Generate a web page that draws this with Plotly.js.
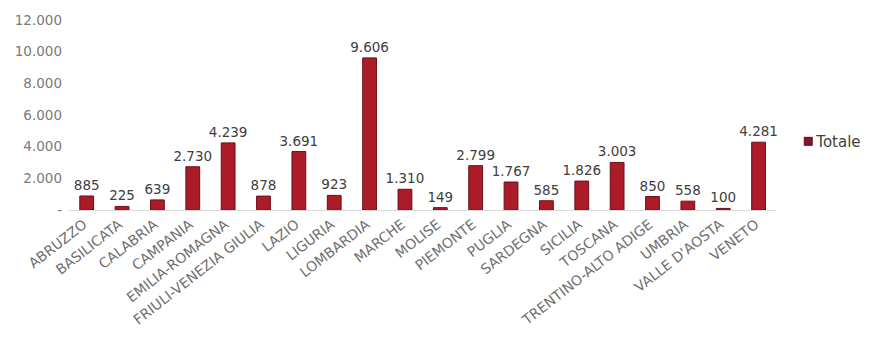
<!DOCTYPE html>
<html><head><meta charset="utf-8">
<script src="https://cdn.plot.ly/plotly-3.0.1.min.js"></script>
<style>html,body{margin:0;padding:0;background:#fff}#chart{width:869px;height:337px}</style>
</head><body><div id="chart"></div>
<script>
const regions = ["ABRUZZO","BASILICATA","CALABRIA","CAMPANIA","EMILIA-ROMAGNA","FRIULI-VENEZIA GIULIA","LAZIO","LIGURIA","LOMBARDIA","MARCHE","MOLISE","PIEMONTE","PUGLIA","SARDEGNA","SICILIA","TOSCANA","TRENTINO-ALTO ADIGE","UMBRIA","VALLE D'AOSTA","VENETO"];
const totale = [885,225,639,2730,4239,878,3691,923,9606,1310,149,2799,1767,585,1826,3003,850,558,100,4281];
const yTickVals = [0,2000,4000,6000,8000,10000,12000];
const yTickText = ["-","2.000","4.000","6.000","8.000","10.000","12.000"];

const fam = 'DejaVu Sans, Verdana, sans-serif';
const trace = {
  type:'bar', name:'Totale', x:regions, y:totale,
  width:0.39,
  marker:{color:'#ab1c28', line:{color:'#6a1018', width:1}},
  text: totale.map(v=>v.toLocaleString('it-IT').replace(/\s/g,'.')),
  textposition:'outside', cliponaxis:false, constraintext:'none',
  textfont:{family:fam, size:13.5, color:'#404040'},
  hoverinfo:'none'
};
const layout = {
  width:869, height:337,
  margin:{l:69, r:87, t:20, b:127},
  paper_bgcolor:'#fff', plot_bgcolor:'#fff',
  separators:',.',
  showlegend:true,
  legend:{xref:'container', x:0.998, y:0.36, yanchor:'middle', xanchor:'right', itemwidth:30,
          font:{family:fam, size:15, color:'#404040'}, bgcolor:'rgba(0,0,0,0)', borderwidth:0},
  xaxis:{type:'category', tickangle:-38, tickfont:{family:fam, size:14, color:'#6f6f6f'},
         ticklabelshift:-3,
         showline:true, linecolor:'#d9d9d9', linewidth:1, showgrid:false, ticks:'', automargin:false},
  yaxis:{range:[0,12000], tickvals:yTickVals, ticktext:yTickText, showgrid:false, zeroline:false,
         tickfont:{family:fam, size:13.5, color:'#7a7a7a'}, ticks:'', ticklen:0, ticklabelstandoff:6, automargin:false},
  bargap:0.61
};
Plotly.newPlot('chart',[trace],layout,{displayModeBar:false,staticPlot:true}).then(()=>{
  document.querySelectorAll('.legendpoints path').forEach(p=>{
    p.setAttribute('d','M-4,-4H4V4H-4Z');
    p.setAttribute('transform','translate(32,0)');
    p.style.fill='#7a1a30';
  });
});
</script></body></html>
